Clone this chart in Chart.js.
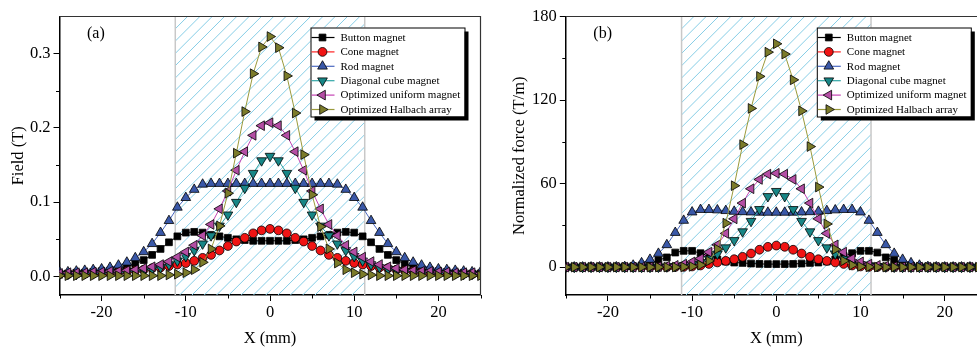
<!DOCTYPE html>
<html><head><meta charset="utf-8">
<script src="https://cdn.jsdelivr.net/npm/chart.js@4.4.0/dist/chart.umd.min.js"></script>
<style>
html,body{margin:0;padding:0;background:#fff;overflow:hidden;width:977px;height:349px;}
#wrap{position:relative;width:977px;height:349px;overflow:hidden;background:#fff;}
#ca{position:absolute;left:0;top:0;}
#cb{position:absolute;left:488px;top:0;}
</style></head><body>
<div id="wrap"><canvas id="ca" width="490" height="349"></canvas><canvas id="cb" width="520" height="349"></canvas></div>
<script>
// ---------- DATA ----------
const xValues = [-25,-24,-23,-22,-21,-20,-19,-18,-17,-16,-15,-14,-13,-12,-11,-10,-9,-8,-7,-6,-5,-4,-3,-2,-1,0,1,2,3,4,5,6,7,8,9,10,11,12,13,14,15,16,17,18,19,20,21,22,23,24,25];
const seriesNames = ["Button magnet","Cone magnet","Rod magnet","Diagonal cube magnet","Optimized uniform magnet","Optimized Halbach array"];

// (a) Field (T)
const fieldButton = [0.004,0.004,0.005,0.005,0.006,0.007,0.008,0.010,0.013,0.017,0.022,0.029,0.037,0.046,0.054,0.059,0.060,0.059,0.056,0.054,0.052,0.050,0.049,0.048,0.048,0.048,0.048,0.048,0.049,0.050,0.052,0.054,0.056,0.059,0.060,0.059,0.054,0.046,0.037,0.029,0.022,0.017,0.013,0.010,0.008,0.007,0.006,0.005,0.005,0.004,0.004];
const fieldCone = [0.003,0.003,0.004,0.004,0.004,0.005,0.005,0.006,0.007,0.008,0.009,0.011,0.012,0.014,0.016,0.018,0.021,0.025,0.029,0.035,0.041,0.047,0.052,0.058,0.062,0.064,0.062,0.058,0.052,0.047,0.041,0.035,0.029,0.025,0.021,0.018,0.016,0.014,0.012,0.011,0.009,0.008,0.007,0.006,0.005,0.005,0.004,0.004,0.004,0.003,0.003];
const fieldRod = [0.006,0.006,0.007,0.008,0.009,0.010,0.012,0.015,0.019,0.025,0.033,0.044,0.059,0.075,0.093,0.106,0.117,0.124,0.125,0.125,0.125,0.125,0.125,0.125,0.125,0.125,0.125,0.125,0.125,0.125,0.125,0.125,0.125,0.124,0.117,0.106,0.093,0.075,0.059,0.044,0.033,0.025,0.019,0.015,0.012,0.010,0.009,0.008,0.007,0.006,0.006];
const fieldDiagonal = [0.003,0.003,0.003,0.004,0.004,0.004,0.005,0.005,0.006,0.007,0.008,0.010,0.012,0.016,0.021,0.027,0.035,0.044,0.055,0.068,0.083,0.100,0.119,0.139,0.156,0.162,0.156,0.139,0.119,0.100,0.083,0.068,0.055,0.044,0.035,0.027,0.021,0.016,0.012,0.010,0.008,0.007,0.006,0.005,0.005,0.004,0.004,0.004,0.003,0.003,0.003];
const fieldUniform = [0.004,0.005,0.005,0.005,0.006,0.006,0.007,0.007,0.008,0.009,0.011,0.013,0.016,0.020,0.026,0.033,0.042,0.055,0.070,0.091,0.115,0.143,0.168,0.190,0.203,0.207,0.203,0.190,0.168,0.143,0.115,0.091,0.070,0.055,0.042,0.033,0.026,0.020,0.016,0.013,0.011,0.009,0.008,0.007,0.007,0.006,0.006,0.005,0.005,0.005,0.004];
const fieldHalbach = [0.001,0.001,0.001,0.001,0.001,0.001,0.001,0.001,0.001,0.001,0.001,0.001,0.001,0.002,0.003,0.005,0.009,0.019,0.037,0.068,0.112,0.166,0.222,0.273,0.309,0.323,0.308,0.270,0.220,0.164,0.110,0.067,0.037,0.018,0.009,0.005,0.003,0.002,0.001,0.001,0.001,0.001,0.001,0.001,0.001,0.001,0.001,0.001,0.001,0.001,0.001];

// (b) Normalized force (T/m)
const forceButton = [0.1,0.1,0.1,0.1,0.1,0.1,0.1,0.3,0.6,1.2,2.5,5.0,7.0,10.5,11.7,11.7,10.0,8.0,5.5,4.0,3.3,3.0,2.6,2.3,2.2,2.2,2.2,2.3,2.6,3.0,3.3,4.0,5.5,8.0,10.0,11.7,11.7,10.5,7.0,5.0,2.5,1.2,0.6,0.3,0.1,0.1,0.1,0.1,0.1,0.1,0.1];
const forceCone = [0,0,0,0,0,0,0,0,0,0,0,0,0,0.1,0.2,0.5,1.2,2.3,3.4,4.5,5.7,7.4,9.8,12.5,14.6,15.5,14.6,12.5,9.8,7.4,5.7,4.5,3.4,2.3,1.2,0.5,0.2,0.1,0,0,0,0,0,0,0,0,0,0,0,0,0];
const forceRod = [0,0,0,0,0,0,0.1,0.3,1.3,3.0,5.5,9.8,16.0,24.8,33.5,39.5,41.3,41.3,41.0,40.5,40.0,39.7,39.5,39.3,39.3,39.3,39.3,39.3,39.5,39.7,40.0,40.5,41.0,41.3,41.3,39.5,33.5,24.8,16.0,9.8,5.5,3.0,1.3,0.3,0.1,0,0,0,0,0,0];
const forceDiagonal = [0,0,0,0,0,0,0,0,0,0,0,0.1,0.3,0.6,1.2,2.0,3.5,6.0,9.5,14.0,19.2,25.5,33.0,41.5,50.8,54.5,50.8,41.5,33.0,25.5,19.2,14.0,9.5,6.0,3.5,2.0,1.2,0.6,0.3,0.1,0,0,0,0,0,0,0,0,0,0,0];
const forceUniform = [0,0,0,0,0,0,0,0,0,0,0.2,0.4,0.8,1.3,2.2,3.8,6.2,10.8,16.0,24.2,34.7,46.0,56.3,63.0,66.8,67.4,66.8,63.0,56.3,46.0,34.7,24.2,16.0,10.8,6.2,3.8,2.2,1.3,0.8,0.4,0.2,0,0,0,0,0,0,0,0,0,0];
const forceHalbach = [0,0,0,0,0,0,0,0,0,0,0,0,0,0,0.2,0.5,1.5,4.5,13.0,31.6,58.5,88.0,114.0,137.0,154.4,160.4,153.0,134.5,112.2,86.6,57.5,31.0,12.8,4.5,1.5,0.5,0.2,0,0,0,0,0,0,0,0,0,0,0,0,0,0];

// ticks
const xTicks = [-20,-10,0,10,20];
const xTickLabels = ["-20","-10","0","10","20"];
const xMinorTicks = [-25,-15,-5,5,15,25];
const yTicksA = [0,0.1,0.2,0.3];
const yTickLabelsA = ["0.0","0.1","0.2","0.3"];
const yMinorTicksA = [0.05,0.15,0.25];
const yTicksB = [0,60,120,180];
const yTickLabelsB = ["0","60","120","180"];
const yMinorTicksB = [30,90,150];
const hatchRange = [-11.25, 11.25];

// ---------- STYLE ----------
const FONT = "'Liberation Serif','Times New Roman',serif";
Chart.defaults.font.family = FONT;
Chart.defaults.color = '#000';
const styles = [
  {line:'#000000', fill:'#000000', style:'rect', radius:4.8, rot:0},
  {line:'#ff2020', fill:'#f01414', style:'circle', radius:4.4, rot:0},
  {line:'#4a68c0', fill:'#3a58a8', style:'triangle', radius:5.6, rot:0},
  {line:'#30a6a6', fill:'#178686', style:'triangle', radius:5.6, rot:180},
  {line:'#c444b4', fill:'#b44ea4', style:'triangle', radius:5.6, rot:-90},
  {line:'#9a9a3c', fill:'#7b7b2a', style:'triangle', radius:5.6, rot:90}
];

function makeDatasets(arrays){
  return arrays.map((arr,i)=>({
    label: seriesNames[i],
    data: xValues.map((x,j)=>({x:x, y:arr[j]})),
    borderColor: styles[i].line,
    backgroundColor: styles[i].fill,
    pointBackgroundColor: styles[i].fill,
    pointBorderColor: '#000',
    pointBorderWidth: 0.8,
    pointRadius: styles[i].radius,
    pointStyle: styles[i].style,
    pointRotation: styles[i].rot,
    borderWidth: 1,
    tension: 0,
    clip: 0,
    order: 5 - i
  }));
}

const decor = {
  id: 'decor',
  beforeDatasetsDraw(chart){
    const {ctx, chartArea:a, scales:{x}} = chart;
    const x0 = x.getPixelForValue(hatchRange[0]);
    const x1 = x.getPixelForValue(hatchRange[1]);
    ctx.save();
    ctx.beginPath();
    ctx.rect(x0, a.top, x1 - x0, a.bottom - a.top);
    ctx.clip();
    ctx.strokeStyle = '#86cde6';
    ctx.lineWidth = 1;
    const h = a.bottom - a.top;
    for (let s = x0 - h; s < x1 + 12; s += 12.3) {
      ctx.beginPath();
      ctx.moveTo(s, a.bottom);
      ctx.lineTo(s + h, a.top);
      ctx.stroke();
    }
    ctx.restore();
    ctx.save();
    ctx.strokeStyle = '#c8c8c8';
    ctx.lineWidth = 1.5;
    [x0, x1].forEach(px => {
      ctx.beginPath(); ctx.moveTo(px, a.top); ctx.lineTo(px, a.bottom); ctx.stroke();
    });
    ctx.restore();
  },
  afterDatasetsDraw(chart){
    const {ctx, chartArea:a, scales:{x, y}} = chart;
    const o = chart.options.plugins.decor;
    ctx.save();
    // frame top / right
    ctx.strokeStyle = '#333';
    ctx.lineWidth = 1.2;
    ctx.beginPath();
    ctx.moveTo(a.left, a.top); ctx.lineTo(a.right, a.top); ctx.lineTo(a.right, a.bottom);
    ctx.stroke();
    // minor ticks
    ctx.strokeStyle = '#000';
    ctx.lineWidth = 1;
    xMinorTicks.forEach(v => {
      const px = Math.round(x.getPixelForValue(v)) + 0.5;
      ctx.beginPath(); ctx.moveTo(px, a.bottom); ctx.lineTo(px, a.bottom + 3.5); ctx.stroke();
    });
    o.yMinor.forEach(v => {
      const py = Math.round(y.getPixelForValue(v)) + 0.5;
      ctx.beginPath(); ctx.moveTo(a.left, py); ctx.lineTo(a.left - 3.5, py); ctx.stroke();
    });
    // panel label
    ctx.fillStyle = '#000';
    ctx.font = "16px " + FONT;
    ctx.textAlign = 'left';
    ctx.textBaseline = 'middle';
    ctx.fillText(o.label, a.left + 27.5, a.top + 17);
    // legend box
    const bx = a.right - 170, by = a.top + 11, bw = 154, bh = 89;
    ctx.fillStyle = '#000';
    ctx.fillRect(bx + 4, by + 4, bw, bh);
    ctx.fillStyle = '#fff';
    ctx.fillRect(bx, by, bw, bh);
    ctx.strokeStyle = '#000';
    ctx.lineWidth = 1;
    ctx.strokeRect(bx + 0.5, by + 0.5, bw, bh);
    ctx.font = "11px " + FONT;
    seriesNames.forEach((name, i) => {
      const ry = by + 10 + i * 14.4;
      const st = styles[i];
      ctx.strokeStyle = st.line;
      ctx.lineWidth = 1.2;
      ctx.beginPath(); ctx.moveTo(bx + 1, ry); ctx.lineTo(bx + 24, ry); ctx.stroke();
      ctx.fillStyle = st.fill;
      ctx.strokeStyle = '#000';
      ctx.lineWidth = 0.8;
      Chart.helpers.drawPoint(ctx, {pointStyle: st.style, radius: st.radius, rotation: st.rot, borderWidth: 0.8}, bx + 12, ry);
      ctx.fillStyle = '#000';
      ctx.textBaseline = 'middle';
      ctx.fillText(name, bx + 30, ry + 0.5);
    });
    ctx.restore();
  }
};

function makeChart(canvasId, arrays, cfg){
  return new Chart(document.getElementById(canvasId), {
    type: 'line',
    data: { datasets: makeDatasets(arrays) },
    plugins: [decor],
    options: {
      responsive: false,
      devicePixelRatio: 1,
      animation: false,
      events: [],
      layout: { padding: { left: 0, top: 16.5, right: cfg.padRight, bottom: 0 } },
      plugins: {
        legend: { display: false },
        tooltip: { enabled: false },
        decor: { label: cfg.label, yMinor: cfg.yMinor }
      },
      scales: {
        x: {
          type: 'linear', min: -25, max: 25,
          afterBuildTicks: s => { s.ticks = xTicks.map(v => ({value: v})); },
          afterFit: s => { s.height = 54; },
          ticks: { callback: (v, i) => xTickLabels[i], padding: 2, font: { size: 16.5 }, color: '#000', maxRotation: 0, autoSkip: false },
          grid: { drawOnChartArea: false, tickLength: 6, tickColor: '#000', tickWidth: 1 },
          border: { color: '#000', width: 1.5 },
          title: { display: true, text: 'X (mm)', font: { size: 16.5 }, color: '#000', padding: { top: 0, bottom: 0 } }
        },
        y: {
          type: 'linear', min: cfg.yMin, max: cfg.yMax,
          afterBuildTicks: s => { s.ticks = cfg.yTicks.map(v => ({value: v})); },
          afterFit: s => { s.width = cfg.yWidth; },
          ticks: { callback: (v, i) => cfg.yLabels[i], padding: 3, font: { size: 16.5 }, color: '#000', autoSkip: false },
          grid: { drawOnChartArea: false, tickLength: 6, tickColor: '#000', tickWidth: 1 },
          border: { color: '#000', width: 1.5 },
          title: { display: true, text: cfg.yTitle, font: { size: 16.5 }, color: '#000', padding: { top: cfg.titlePad, bottom: 0 } }
        }
      }
    }
  });
}

makeChart('ca', [fieldButton, fieldCone, fieldRod, fieldDiagonal, fieldUniform, fieldHalbach], {
  label: '(a)', yMin: -0.025, yMax: 0.35, yTicks: yTicksA, yLabels: yTickLabelsA, yMinor: yMinorTicksA,
  yWidth: 59.5, padRight: 9.5, yTitle: 'Field (T)', titlePad: 8.4
});
makeChart('cb', [forceButton, forceCone, forceRod, forceDiagonal, forceUniform, forceHalbach], {
  label: '(b)', yMin: -20, yMax: 180, yTicks: yTicksB, yLabels: yTickLabelsB, yMinor: yMinorTicksB,
  yWidth: 77.8, padRight: 21.2, yTitle: 'Normalized force (T/m)', titlePad: 21.8
});
</script>
</body></html>
